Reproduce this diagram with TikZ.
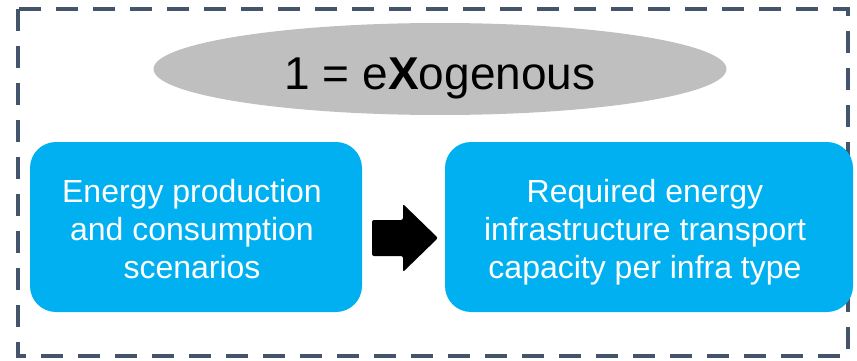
\documentclass[tikz,border=0pt]{standalone}
\usepackage{fontspec}
\setmainfont{Liberation Sans}
\usetikzlibrary{shapes.geometric}
\definecolor{frameslate}{HTML}{44546A}
\definecolor{boxblue}{HTML}{00B0F0}
\definecolor{ovalgray}{HTML}{BFBFBF}
\tikzset{
  infobox/.style={draw=none, fill=boxblue, rounded corners=26pt, inner sep=0pt},
  infotext/.style={text=white, align=center, inner sep=0pt,
    font=\fontsize{32}{38}\selectfont},
  titleoval/.style={ellipse, fill=ovalgray, draw=none, inner sep=0pt},
  titletext/.style={inner sep=0pt, font=\fontsize{46}{52}\selectfont}
}
\begin{document}
\begin{tikzpicture}[x=1pt, y=-1pt]
  \useasboundingbox (0,0) rectangle (857,361);
  % dashed frame
  \draw[frameslate, line width=4pt, dash pattern=on 22pt off 15pt]
    (18,9) rectangle (848,356);
  % title oval
  \node[titleoval, minimum width=573pt, minimum height=92pt] (oval) at (440,69) {};
  \node[titletext, anchor=base] (title) at (440,89) {1 = e\textbf{X}ogenous};
  % the two boxes; text is placed by the baseline of its last line
  \node[infobox, minimum width=332pt, minimum height=170pt] (scenbox) at (196,227) {};
  \node[infotext, anchor=base] (scen) at (192,278)
    {Energy production\\and consumption\\scenarios};
  \node[infobox, minimum width=408pt, minimum height=170pt] (reqbox) at (649,227) {};
  \node[infotext, anchor=base] (req) at (645,278)
    {Required energy\\infrastructure transport\\capacity per infra type};
  % block arrow between the boxes
  \fill[black, rounded corners=2pt]
    (372,220) -- (403,220) -- (403,204) -- (438,238) -- (403,272)
    -- (403,256) -- (372,256) -- cycle;
\end{tikzpicture}
\end{document}
